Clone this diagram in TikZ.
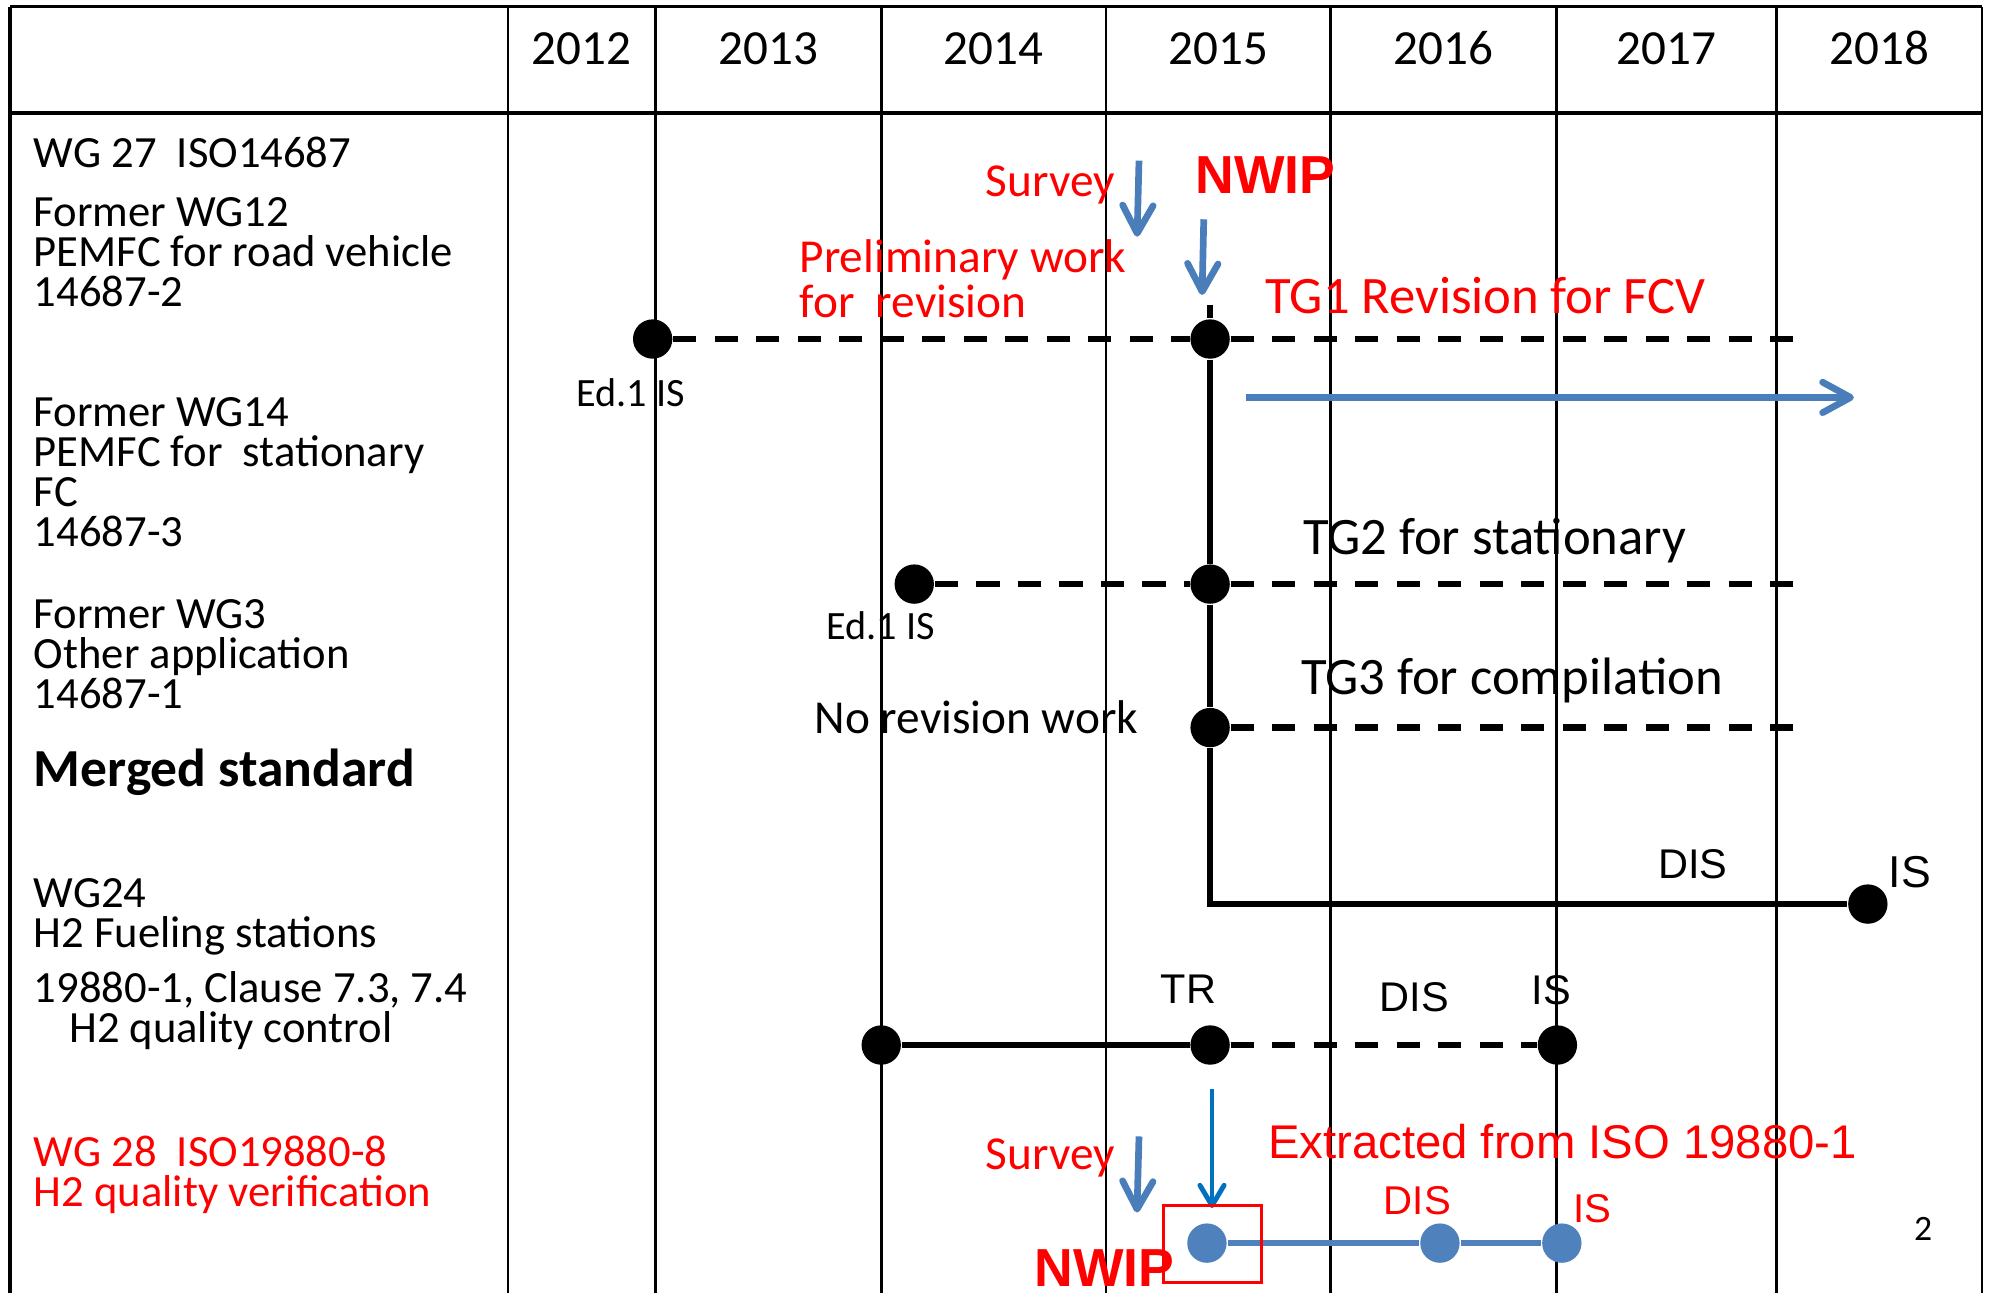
\documentclass[tikz,border=0pt]{standalone}
\usepackage{fontspec}
\setmainfont{Carlito}
\newfontfamily\arialfont{Liberation Sans}
\usetikzlibrary{arrows.meta}

\definecolor{arrowblue}{RGB}{74,126,187}
\definecolor{dotblue}{RGB}{79,129,189}
\definecolor{darkarrow}{RGB}{0,112,192}

\tikzset{
	gridline/.style={line width=0.6pt},
	frameline/.style={line width=0.8pt},
	yeartext/.style={font=\fontsize{11}{13}\selectfont},
	rowtext/.style={anchor=base west,align=left,inner sep=0pt,font=\fontsize{10}{9}\selectfont},
	notetext/.style={anchor=base west,align=left,inner sep=0pt,font=\fontsize{10.6}{9}\selectfont},
	tgtext/.style={anchor=base west,inner sep=0pt,font=\fontsize{11.8}{13}\selectfont},
	edtext/.style={anchor=base,inner sep=0pt,font=\fontsize{9}{11}\selectfont},
	stagetext/.style={anchor=base,inner sep=0pt,font=\arialfont\fontsize{9.3}{11}\selectfont},
	nwiptext/.style={anchor=base west,inner sep=0pt,text=red,font=\arialfont\bfseries\fontsize{12}{14}\selectfont},
	milestone/.style={circle,fill=black,inner sep=0pt,minimum size=0.31cm},
	bluemile/.style={circle,fill=dotblue,inner sep=0pt,minimum size=0.31cm},
	workline/.style={line width=1.3pt},
	planline/.style={line width=1.5pt,dash pattern=on 5.2pt off 4.1pt},
	bluearrow/.style={line width=1.5pt,draw=arrowblue,-{Straight Barb[length=2.2mm,width=2.4mm,round]}}
}

\begin{document}
\begin{tikzpicture}
	\useasboundingbox (0,0) rectangle (15.68,-10.183);

	% table
	\draw[frameline] (0.079,-0.052) -- (15.61,-0.052); % top edge
	\draw[frameline] (0.079,-0.888) -- (15.61,-0.888); % below the years
	\draw[frameline] (0.079,-0.052) -- (0.079,-10.183); % left edge
	\draw[gridline] (4.00,-0.052) -- (4.00,-10.183);
	\draw[gridline] (5.16,-0.052) -- (5.16,-10.183);
	\draw[gridline] (6.94,-0.052) -- (6.94,-10.183);
	\draw[gridline] (8.71,-0.052) -- (8.71,-10.183);
	\draw[gridline] (10.48,-0.052) -- (10.48,-10.183);
	\draw[gridline] (12.26,-0.052) -- (12.26,-10.183);
	\draw[gridline] (13.99,-0.052) -- (13.99,-10.183);
	\draw[gridline] (15.61,-0.052) -- (15.61,-10.183); % right edge

	% years
	\node[yeartext] (y2012) at (4.58,-0.38) {2012};
	\node[yeartext] (y2013) at (6.05,-0.38) {2013};
	\node[yeartext] (y2014) at (7.825,-0.38) {2014};
	\node[yeartext] (y2015) at (9.595,-0.38) {2015};
	\node[yeartext] (y2016) at (11.37,-0.38) {2016};
	\node[yeartext] (y2017) at (13.125,-0.38) {2017};
	\node[yeartext] (y2018) at (14.80,-0.38) {2018};

	% working groups (multi-line texts sit on their last line)
	\node[rowtext] (wg27) at (0.26,-1.318) {WG 27~~ISO14687};
	\node[rowtext] (wg12) at (0.26,-2.415) {Former WG12\\PEMFC for road vehicle\\14687-2};
	\node[rowtext] (wg14) at (0.26,-4.305) {Former WG14\\PEMFC for~~stationary\\FC\\14687-3};
	\node[rowtext] (wg3) at (0.26,-5.58) {Former WG3\\Other application\\14687-1};
	\node[rowtext,font=\bfseries\fontsize{12}{14}\selectfont] (merged) at (0.26,-6.196) {Merged standard};
	\node[rowtext] (wg24) at (0.26,-7.465) {WG24\\H2 Fueling stations};
	\node[rowtext] (clause) at (0.26,-7.895) {19880-1, Clause 7.3, 7.4};
	\node[rowtext] (qctl) at (0.538,-8.212) {H2 quality control};
	\node[rowtext,text=red] (wg28) at (0.26,-9.50) {WG 28~~ISO19880-8\\H2 quality verification};

	% milestones
	\node[milestone] (ed1a) at (5.14,-2.67) {};
	\node[milestone] (tg1) at (9.53,-2.67) {};
	\node[milestone] (ed1b) at (7.20,-4.60) {};
	\node[milestone] (tg2) at (9.53,-4.60) {};
	\node[milestone] (tg3) at (9.53,-5.73) {};
	\node[milestone] (mergeis) at (14.71,-7.12) {};
	\node[milestone] (wg24start) at (6.94,-8.23) {};
	\node[milestone] (wg24tr) at (9.53,-8.23) {};
	\node[milestone] (wg24is) at (12.265,-8.23) {};
	\node[bluemile] (wg28nwip) at (9.505,-9.79) {};
	\node[bluemile] (wg28dis) at (11.34,-9.79) {};
	\node[bluemile] (wg28is) at (12.30,-9.79) {};

	\coordinate (mergetop) at (9.53,-2.40);
	\coordinate (tg1end) at (14.25,-2.67);
	\coordinate (tg2end) at (14.22,-4.60);
	\coordinate (tg3end) at (14.24,-5.73);

	% links
	\draw[workline] (mergetop) -- (tg1) -- (tg2) -- (tg3) |- (mergeis); % merged standard
	\draw[planline] (ed1a) -- (tg1) -- (tg1end); % 14687-2
	\draw[planline] (ed1b) -- (tg2) -- (tg2end); % 14687-3
	\draw[planline] (tg3) -- (tg3end); % 14687-1
	\draw[workline] (wg24start) -- (wg24tr);
	\draw[planline] (wg24tr) -- (wg24is);
	\draw[line width=1.3pt,dotblue] (wg28nwip) -- (wg28dis) -- (wg28is);

	% arrows
	\coordinate (survey1top) at (8.97,-1.265);
	\coordinate (survey1tip) at (8.955,-1.864);
	\coordinate (nwip1top) at (9.48,-1.727);
	\coordinate (nwip1tip) at (9.467,-2.323);
	\coordinate (tg1start) at (9.81,-3.13);
	\coordinate (tg1tip) at (14.60,-3.13);
	\coordinate (survey2top) at (8.97,-8.95);
	\coordinate (survey2tip) at (8.954,-9.549);
	\coordinate (nwip2top) at (9.545,-8.578);
	\coordinate (nwip2tip) at (9.545,-9.514);
	\draw[bluearrow] (survey1top) -- (survey1tip);
	\draw[bluearrow] (nwip1top) -- (nwip1tip);
	\draw[bluearrow] (tg1start) -- (tg1tip);
	\draw[bluearrow] (survey2top) -- (survey2tip);
	\draw[line width=1.1pt,draw=darkarrow,-{Straight Barb[length=1.6mm,width=1.9mm,round]}] (nwip2top) -- (nwip2tip);
	\draw[red,line width=0.6pt] (9.164,-9.493) rectangle (9.935,-10.10); % box round the new item

	% label
	\node[notetext,text=red] (survey1) at (7.756,-1.549) {Survey};
	\node[nwiptext] (nwip1) at (9.41,-1.522) {NWIP};
	\node[notetext,text=red] (prelim) at (6.29,-2.499) {Preliminary work\\for~~revision};
	\node[tgtext,text=red] (tg1lbl) at (9.96,-2.467) {TG1 Revision for FCV};
	\node[edtext] (ed1albl) at (4.967,-3.202) {Ed.1 IS};
	\node[tgtext] (tg2lbl) at (10.255,-4.37) {TG2 for stationary};
	\node[edtext] (ed1blbl) at (6.935,-5.04) {Ed.1 IS};
	\node[tgtext] (tg3lbl) at (10.24,-5.47) {TG3 for compilation};
	\node[notetext,anchor=base] (norev) at (7.69,-5.774) {No revision work};
	\node[stagetext] (mergedis) at (13.33,-6.916) {DIS};
	\node[stagetext,font=\arialfont\fontsize{10}{12}\selectfont] (mergeislbl) at (15.04,-6.987) {IS};
	\node[stagetext] (trlbl) at (9.36,-7.90) {TR};
	\node[stagetext] (wg24dis) at (11.14,-7.966) {DIS};
	\node[stagetext] (wg24islbl) at (12.217,-7.913) {IS};
	\node[anchor=base west,inner sep=0pt,text=red,font=\arialfont\fontsize{10.6}{12}\selectfont] (extract) at (9.979,-9.12) {Extracted from ISO 19880-1};
	\node[notetext,text=red] (survey2) at (7.757,-9.213) {Survey};
	\node[nwiptext] (nwip2) at (8.14,-10.13) {NWIP};
	\node[stagetext,text=red,font=\arialfont\fontsize{9}{11}\selectfont] (wg28dislbl) at (11.163,-9.567) {DIS};
	\node[stagetext,text=red,font=\arialfont\fontsize{9}{11}\selectfont] (wg28islbl) at (12.54,-9.627) {IS};
	\node[font=\fontsize{8}{10}\selectfont] (pagenum) at (15.145,-9.68) {2};

\end{tikzpicture}
\end{document}
